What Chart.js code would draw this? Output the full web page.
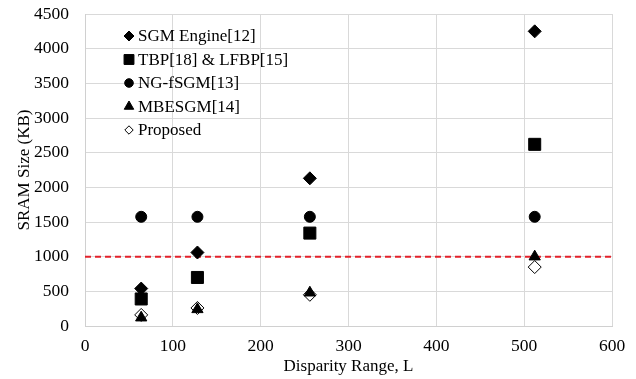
<!DOCTYPE html>
<html>
<head>
<meta charset="utf-8">
<script src="https://cdn.jsdelivr.net/npm/chart.js@4.4.1/dist/chart.umd.min.js"></script>
<style>
  html, body { margin: 0; padding: 0; background: #fff; }
  #wrap { width: 636px; height: 379px; }
</style>
</head>
<body>
<div id="wrap"><canvas id="c" width="636" height="379"></canvas></div>
<script>
// Disparity range values (x) and SRAM sizes in KB (y) for each design
const disparity = [64, 128, 256, 512];
const sgmEngine = [540, 1060, 2130, 4250];
const tbpLfbp   = [390, 700, 1340, 2620];
const ngFsgm    = [1575, 1575, 1575, 1575];
const mbesgm    = [120, 240, 480, 1000];
const proposed  = [160, 260, 450, 850];
const limitLine = 1000;   // SRAM budget line
const xTicks = [0, 100, 200, 300, 400, 500, 600];
const yTicks = [0, 500, 1000, 1500, 2000, 2500, 3000, 3500, 4000, 4500];

const pts = (ys) => disparity.map((x, i) => ({ x, y: ys[i] }));
const serif = "'Liberation Serif', 'Times New Roman', serif";

function series(label, ys, style, fill, radius, legendRadius) {
  return {
    label, data: pts(ys), showLine: false,
    pointStyle: style, pointRadius: radius, pointHoverRadius: radius,
    pointBackgroundColor: fill, pointBorderColor: '#000', pointBorderWidth: 1,
    backgroundColor: fill, borderColor: '#000', borderWidth: 1,
    legendRadius
  };
}

// Legend drawn inside the plot area, top-left, one entry per row
const insideLegend = {
  id: 'insideLegend',
  afterDraw(chart) {
    const { ctx, chartArea } = chart;
    const x0 = chartArea.left + 44;
    const y0 = chartArea.top + 22;
    const rowGap = 23.5;
    ctx.save();
    ctx.font = "17px " + serif;
    ctx.textBaseline = 'middle';
    ctx.textAlign = 'left';
    let row = 0;
    chart.data.datasets.forEach((ds) => {
      if (!ds.legendRadius) return;
      const y = y0 + row * rowGap;
      ctx.fillStyle = ds.pointBackgroundColor;
      ctx.strokeStyle = '#000';
      ctx.lineWidth = 1;
      Chart.helpers.drawPoint(ctx, {
        pointStyle: ds.pointStyle, radius: ds.legendRadius, rotation: 0, borderWidth: 1
      }, x0, y);
      ctx.fillStyle = '#000';
      ctx.fillText(ds.label, x0 + 9, y + 1);
      row++;
    });
    ctx.restore();
  }
};

new Chart(document.getElementById('c'), {
  type: 'scatter',
  data: {
    datasets: [
      series('SGM Engine[12]', sgmEngine, 'rectRot', '#000', 6.5, 5),
      series('TBP[18] & LFBP[15]', tbpLfbp, 'rect', '#000', 8.5, 7),
      series('NG-fSGM[13]', ngFsgm, 'circle', '#000', 5.5, 4.3),
      series('MBESGM[14]', mbesgm, 'triangle', '#000', 6.5, 5.5),
      series('Proposed', proposed, 'rectRot', '#fff', 6.5, 4.2),
      {
        label: 'limit', type: 'line',
        data: [{ x: xTicks[0], y: limitLine }, { x: xTicks[xTicks.length - 1], y: limitLine }],
        borderColor: '#e4202a', borderWidth: 2, borderDash: [6, 4],
        pointRadius: 0, fill: false
      }
    ]
  },
  plugins: [insideLegend],
  options: {
    responsive: false,
    animation: false,
    layout: { padding: { left: 0, right: 24, top: 14, bottom: 0 } },
    plugins: {
      tooltip: { enabled: false },
      legend: { display: false }
    },
    scales: {
      x: {
        type: 'linear', min: 0, max: 600,
        afterBuildTicks: (ax) => { ax.ticks = xTicks.map(v => ({ value: v })); },
        afterFit: (ax) => { ax.height = 53; ax.paddingLeft = 0; ax.paddingRight = 0; },
        grid: { color: '#d9d9d9', drawTicks: false },
        border: { color: '#d0d0d0' },
        ticks: { color: '#000', padding: 10, font: { family: serif, size: 17.5 },
                 callback: (v) => String(v) },
        title: { display: true, text: 'Disparity Range, L', color: '#000',
                 font: { family: serif, size: 17 }, padding: { top: 0, bottom: 2 } }
      },
      y: {
        type: 'linear', min: 0, max: 4500,
        afterBuildTicks: (ax) => { ax.ticks = yTicks.map(v => ({ value: v })); },
        afterFit: (ax) => { ax.width = 85; ax.paddingTop = 0; ax.paddingBottom = 0; },
        grid: { color: '#d9d9d9', drawTicks: false },
        border: { color: '#d0d0d0' },
        ticks: { color: '#000', padding: 16, font: { family: serif, size: 17.5 },
                 callback: (v) => String(v) },
        title: { display: true, text: 'SRAM Size (KB)', color: '#000',
                 font: { family: serif, size: 17 }, padding: { top: 14, bottom: 0 } }
      }
    }
  }
});
</script>
</body>
</html>
